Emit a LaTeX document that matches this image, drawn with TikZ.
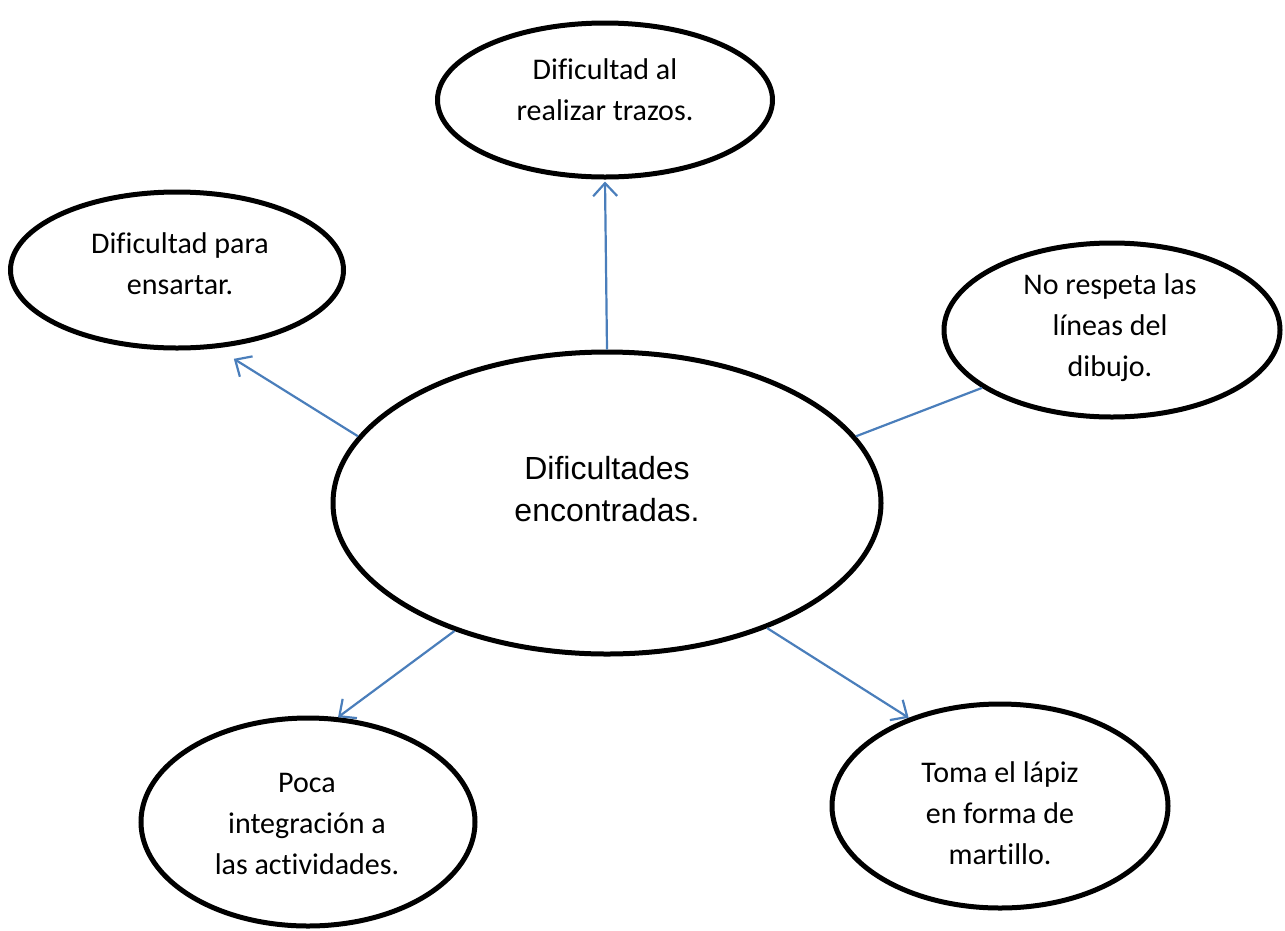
\documentclass[tikz,border=0pt]{standalone}
\usepackage{fontspec}
\setmainfont{Carlito}[Ligatures=NoCommon]
\newfontfamily\arialf{Liberation Sans}[Ligatures=NoCommon]
\usetikzlibrary{shapes.geometric,arrows.meta}
\definecolor{conn}{RGB}{74,126,187}
\tikzset{
  bubble/.style={draw=black,line width=5pt,ellipse,inner sep=0pt,fill=white},
  btext/.style={align=center,font=\fontsize{30}{41}\selectfont,inner sep=0pt},
  ctext/.style={align=center,font=\arialf\fontsize{32}{42}\selectfont,inner sep=0pt},
  link/.style={draw=conn,line width=2.2pt},
  arrowlink/.style={link,-{Straight Barb[length=13pt,width=24pt,line width=2.2pt]}}
}
\begin{document}
\begin{tikzpicture}[x=1pt,y=-1pt]
\useasboundingbox (0,0) rectangle (1285,930);
% ellipses
\node[bubble,minimum width=548pt,minimum height=302pt] (c) at (607,503) {};
\node[bubble,minimum width=335pt,minimum height=154pt] (t) at (605,100) {};
\node[bubble,minimum width=333pt,minimum height=156pt] (l) at (177,270) {};
\node[bubble,minimum width=336pt,minimum height=174pt] (r) at (1112,330) {};
\node[bubble,minimum width=334pt,minimum height=208pt] (bl) at (308,822) {};
\node[bubble,minimum width=336pt,minimum height=204pt] (br) at (1000,806) {};
% texts
\node[ctext] (ct) at (607,489) {Dificultades\\encontradas.};
\node[btext] (tt) at (605,90) {Dificultad al\\realizar trazos.};
\node[btext] (lt) at (180,264) {Dificultad para\\ensartar.};
\node[btext] (rt) at (1110,328) {No respeta las\\líneas del\\dibujo.};
\node[btext] (blt) at (307,824) {Poca\\integración a\\las actividades.};
\node[btext] (brt) at (1000,813) {Toma el lápiz\\en forma de\\martillo.};
% connectors
\draw[arrowlink] (c.north) -- ([yshift=-2pt]t.south);
\draw[arrowlink,shorten >=20pt] (c.165) -- (l.-63.7);
\draw[link] (c.15) -- (r.204);
\draw[arrowlink] (c.220) -- (bl.74);
\draw[arrowlink] (c.-38) -- (br.136);
\end{tikzpicture}
\end{document}
